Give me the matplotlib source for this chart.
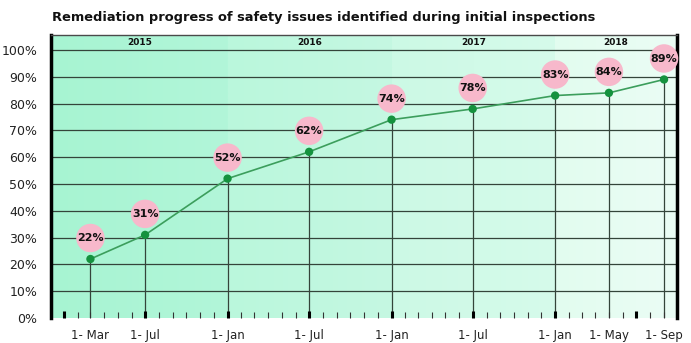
import numpy as np
import pandas as pd
import matplotlib.pyplot as plt
import matplotlib.dates as mdates
import matplotlib.transforms as mtransforms
from matplotlib.colors import to_rgb

# data
dates = ["2015-03-01", "2015-07-01", "2016-01-01", "2016-07-01", "2017-01-01",
         "2017-07-01", "2018-01-01", "2018-05-01", "2018-09-01"]
values = [22, 31, 52, 62, 74, 78, 83, 84, 89]
tick_labels = ["1- Mar", "1- Jul", "1- Jan", "1- Jul", "1- Jan",
               "1- Jul", "1- Jan", "1- May", "1- Sep"]
years = ["2015", "2016", "2017", "2018"]
year_starts = ["2015-01-01", "2016-01-01", "2017-01-01", "2018-01-01"]
band_colors = [("#a7f4d2", "#b2f6d9"), ("#baf7dc", "#c5f8e2"),
               ("#ccf9e5", "#d6fbeb"), ("#e2fcef", "#ebfdf5")]

title = "Remediation progress of safety issues identified during initial inspections"

x = mdates.date2num(pd.to_datetime(dates))
xmin = mdates.date2num(pd.Timestamp("2014-12-03"))
xmax = mdates.date2num(pd.Timestamp("2018-09-30"))
ymax = 105.6

fig = plt.figure(figsize=(6.91, 3.43), dpi=100)
ax = fig.add_axes([0.0738, 0.073, 0.906, 0.825])

# year bands with a soft horizontal gradient
starts = list(mdates.date2num(pd.to_datetime(year_starts)))
edges = [xmin] + starts[1:] + [xmax]
for i, yr in enumerate(years):
    c0, c1 = np.array(to_rgb(band_colors[i][0])), np.array(to_rgb(band_colors[i][1]))
    t = np.linspace(0, 1, 64)[None, :, None]
    grad = c0 + (c1 - c0) * t
    ax.imshow(grad, extent=(edges[i], edges[i + 1], 0, ymax), aspect="auto",
              zorder=0, interpolation="bilinear")
    ax.text((edges[i] + edges[i + 1]) / 2, 102.9, yr, ha="center", va="center",
            fontsize=6.5, fontweight="bold", color="#111111")

# horizontal grid
for g in range(10, 101, 10):
    ax.axhline(g, color="#34443a", lw=0.9, zorder=1)

# drop lines, line and markers
ax.vlines(x, 0, values, color="#34443a", lw=0.9, zorder=1)
ax.plot(x, values, color="#3c9e5c", lw=1.2, zorder=3)
ax.scatter(x, values, s=36, color="#15923e", zorder=4, edgecolors="none")

# pink bubbles with value labels
offset = ax.transData + mtransforms.ScaledTranslation(0, 0.21, fig.dpi_scale_trans)
ax.scatter(x, values, s=20.5 ** 2, color="#f7b8cb", transform=offset,
           zorder=5, edgecolors="none", clip_on=False)
for xi, v in zip(x, values):
    ax.annotate(f"{v}%", (xi, v), xytext=(0, 15), textcoords="offset points",
                ha="center", va="center", fontsize=8, fontweight="bold",
                color="#111111", zorder=6)

ax.set_xlim(xmin, xmax)
ax.set_ylim(0, ymax)

# ticks
ax.xaxis.set_major_locator(mdates.MonthLocator(bymonth=[1, 7]))
ax.xaxis.set_minor_locator(mdates.MonthLocator())
ax.tick_params(axis="x", which="major", direction="in", length=5, width=2.2,
               color="black", labelbottom=False)
ax.tick_params(axis="x", which="minor", direction="in", length=4, width=0.8,
               color="#333333")
ax.set_yticks(range(0, 101, 10))
ax.set_yticklabels([f"{v}%" for v in range(0, 101, 10)], fontsize=9, color="#222222")
ax.tick_params(axis="y", length=0, pad=10)

trans = mtransforms.blended_transform_factory(ax.transData, ax.transAxes)
for xi, lab in zip(x, tick_labels):
    ax.text(xi, -0.04, lab, transform=trans, ha="center", va="top",
            fontsize=8.5, color="#222222")

for side in ["left", "right"]:
    ax.spines[side].set_linewidth(2.5)
    ax.spines[side].set_color("black")
ax.spines["top"].set_linewidth(1.0)
ax.spines["top"].set_color("#4a4a4a")
ax.spines["bottom"].set_visible(False)

fig.text(0.075, 0.95, title, fontsize=9.4, fontweight="bold", ha="left",
         va="center", color="#111111")

fig.savefig("out.png", dpi=100)
